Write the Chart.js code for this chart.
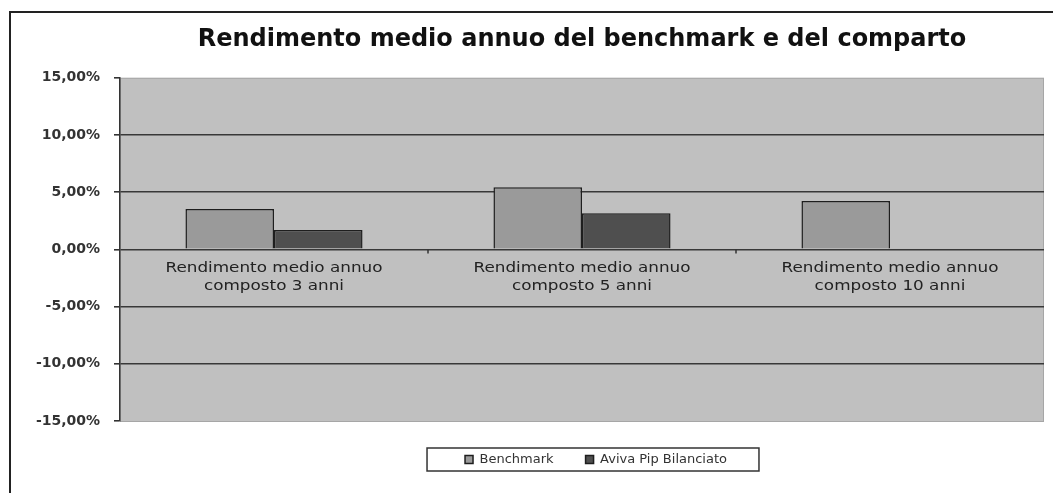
<!DOCTYPE html>
<html>
<head>
<meta charset="utf-8">
<script src="https://cdn.jsdelivr.net/npm/chart.js@4/dist/chart.umd.min.js"></script>
<style>
    html, body { margin: 0; padding: 0; background: #fff; overflow: hidden; }
    #frame {
        position: absolute; left: 9px; top: 11px; width: 2000px; height: 1000px;
        border-left: 2px solid #222; border-top: 2px solid #222;
    }
    #wrap { position: absolute; left: 0; top: 0; width: 1053px; height: 493px; }
</style>
</head>
<body>
<div id="frame"></div>
<div id="wrap"><canvas id="chart"></canvas></div>
<script>
// --- Data ---
const categories = [
    ['Rendimento medio annuo', 'composto 3 anni'],
    ['Rendimento medio annuo', 'composto 5 anni'],
    ['Rendimento medio annuo', 'composto 10 anni']
];
const seriesNames = ['Benchmark', 'Aviva Pip Bilanciato'];
const benchmark = [3.54, 5.44, 4.24];
const aviva = [1.70, 3.16, null];
const yTicks = [-15, -10, -5, 0, 5, 10, 15];

const FONT = "'DejaVu Sans', Verdana, sans-serif";

function fmtPct(v) {
    return v.toFixed(2).replace('.', ',') + '%';
}

// grey plot area with a light border
const plotBackground = {
    id: 'plotBackground',
    beforeDraw(chart) {
        const { ctx, chartArea: a } = chart;
        ctx.save();
        ctx.fillStyle = '#c0c0c0';
        ctx.fillRect(a.left, a.top, a.width, a.height);
        ctx.strokeStyle = '#a6a6a6';
        ctx.lineWidth = 1;
        ctx.strokeRect(a.left + 0.5, a.top + 0.5, a.width - 1, a.height);
        ctx.restore();
    }
};

// category labels sit just under the zero line, Excel style
const zeroAxisLabels = {
    id: 'zeroAxisLabels',
    afterDatasetsDraw(chart) {
        const { ctx } = chart;
        const x = chart.scales.x;
        const y0 = chart.scales.y.getPixelForValue(0);
        ctx.save();
        ctx.strokeStyle = '#333';
        ctx.lineWidth = 1.5;
        for (let i = 0; i < categories.length - 1; i++) {
            const bx = Math.round(x.getPixelForValue(i + 0.5));
            ctx.beginPath();
            ctx.moveTo(bx, y0);
            ctx.lineTo(bx, y0 + 4);
            ctx.stroke();
        }
        ctx.fillStyle = '#222';
        ctx.font = '14px ' + FONT;
        ctx.textAlign = 'center';
        ctx.textBaseline = 'middle';
        const stretch = 1.2; // the source lettering is set wide
        categories.forEach((lines, i) => {
            const cx = x.getPixelForValue(i);
            lines.forEach((t, j) => {
                ctx.save();
                ctx.translate(cx, y0 + 19 + j * 18);
                ctx.scale(stretch, 1);
                ctx.fillText(t, 0, 0);
                ctx.restore();
            });
        });
        ctx.restore();
    }
};

// nudge the legend a bit right, then box it
const legendBox = {
    id: 'legendBox',
    afterUpdate(chart) {
        const lg = chart.legend;
        if (!lg) return;
        const dx = 14;
        lg.left += dx;
        lg.right += dx;
        (lg.legendHitBoxes || []).forEach(b => { b.left += dx; });
    },
    afterDraw(chart) {
        const boxes = chart.legend && chart.legend.legendHitBoxes;
        if (!boxes || !boxes.length) return;
        const first = boxes[0], last = boxes[boxes.length - 1];
        const left = first.left - 38;
        const right = last.left + last.width + 32;
        const cy = first.top + first.height / 2;
        const { ctx } = chart;
        ctx.save();
        ctx.strokeStyle = '#333';
        ctx.lineWidth = 1.5;
        ctx.strokeRect(left, cy - 11.5, right - left, 23);
        ctx.restore();
    }
};

new Chart(document.getElementById('chart'), {
    type: 'bar',
    data: {
        labels: categories,
        datasets: [{
            label: seriesNames[0],
            data: benchmark,
            backgroundColor: '#9a9a9a',
            borderColor: '#1e1e1e',
            borderWidth: 1.5
        }, {
            label: seriesNames[1],
            data: aviva,
            backgroundColor: '#4f4f4f',
            borderColor: '#1e1e1e',
            borderWidth: 1.5
        }]
    },
    options: {
        responsive: true,
        maintainAspectRatio: false,
        animation: false,
        layout: { padding: { top: 12, right: 9, bottom: 17, left: 0 } },
        datasets: {
            bar: { categoryPercentage: 0.575, barPercentage: 1 }
        },
        scales: {
            x: { display: false },
            y: {
                min: -15,
                max: 15,
                afterBuildTicks(scale) {
                    scale.ticks = yTicks.map(v => ({ value: v }));
                },
                afterFit(scale) { scale.width = 120; },
                border: { display: true, color: '#333', width: 1.5 },
                grid: {
                    color: c => (c.tick && Math.abs(c.tick.value) === 15) ? 'rgba(0,0,0,0)' : '#383838',
                    lineWidth: 1.6,
                    tickColor: '#333',
                    tickLength: 6
                },
                ticks: {
                    padding: 14,
                    color: '#333',
                    font: { family: FONT, size: 14, weight: 'bold' },
                    callback: v => fmtPct(v)
                }
            }
        },
        plugins: {
            title: {
                display: true,
                fullSize: false,
                text: 'Rendimento medio annuo del benchmark e del comparto',
                color: '#111',
                font: { family: FONT, size: 24, weight: 'bold' },
                padding: { top: 13, bottom: 24 }
            },
            legend: {
                position: 'bottom',
                fullSize: false,
                labels: {
                    boxWidth: 8,
                    boxHeight: 8,
                    padding: 32,
                    color: '#333',
                    font: { family: FONT, size: 13 }
                }
            },
            tooltip: { enabled: false }
        }
    },
    plugins: [plotBackground, zeroAxisLabels, legendBox]
});
</script>
</body>
</html>
